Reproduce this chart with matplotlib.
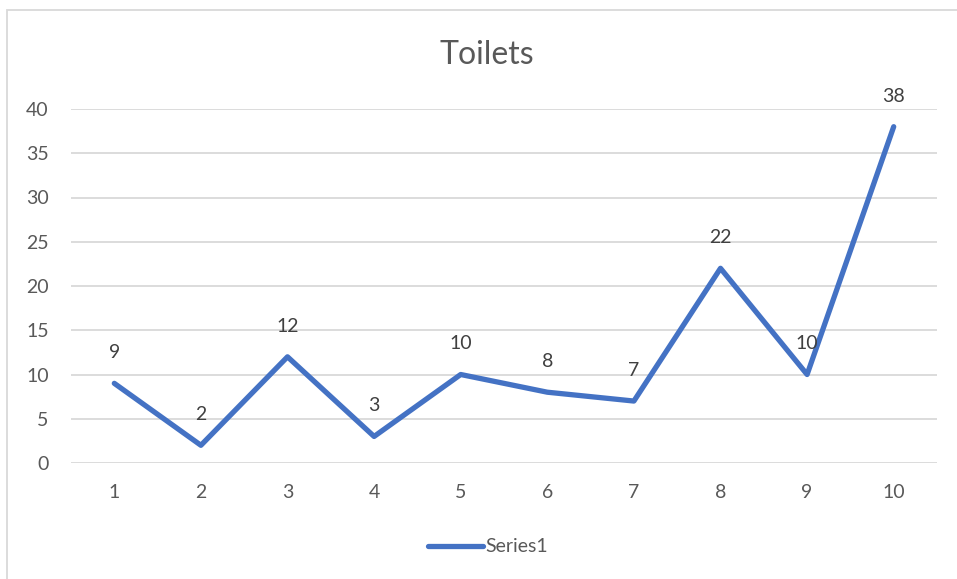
import matplotlib.pyplot as plt
from matplotlib.patches import Rectangle

plt.rcParams['font.family'] = ['Lato', 'DejaVu Sans']

categories = [1, 2, 3, 4, 5, 6, 7, 8, 9, 10]
values = [9, 2, 12, 3, 10, 8, 7, 22, 10, 38]
yticks = [0, 5, 10, 15, 20, 25, 30, 35, 40]

text_col = '#595959'
line_col = '#4472C4'

fig = plt.figure(figsize=(9.57, 5.79), dpi=100)
ax = fig.add_axes([71/957, 1 - 463/579, 866/957, 354/579])

# chart frame, partly cut off at right/bottom like the source
fig.patches.append(Rectangle((7/957, -0.1), 1.1, 1 - 10/579 + 0.1,
                             transform=fig.transFigure, fill=False,
                             edgecolor='#D9D9D9', linewidth=1.3))

ax.plot(categories, values, color=line_col, linewidth=3.8,
        solid_capstyle='round', solid_joinstyle='round', label='Series1')

for x, v in zip(categories, values):
    ax.annotate(str(v), (x, v), xytext=(0, 22), textcoords='offset points',
                ha='center', va='center', fontsize=14, color='#404040')

ax.set_xlim(0.5, 10.5)
ax.set_ylim(0, 40)
ax.set_xticks(categories)
ax.set_yticks(yticks)
ax.tick_params(axis='both', length=0, labelsize=14, labelcolor=text_col)
ax.tick_params(axis='x', pad=15)
ax.tick_params(axis='y', pad=16)
for lbl in ax.get_yticklabels():
    lbl.set_horizontalalignment('right')

ax.grid(axis='y', color='#D9D9D9', linewidth=1.3)
ax.set_axisbelow(True)
for s in ax.spines.values():
    s.set_visible(False)

fig.text(487/957, 1 - 55/579, 'Toilets', ha='center', va='center',
         fontsize=23, color=text_col)

leg = fig.legend(loc='center', bbox_to_anchor=(488/957, 1 - 547/579),
                 frameon=False, fontsize=14, handlelength=2.8,
                 handletextpad=0.1)
for t in leg.get_texts():
    t.set_color(text_col)

fig.savefig('out.png', dpi=100)
